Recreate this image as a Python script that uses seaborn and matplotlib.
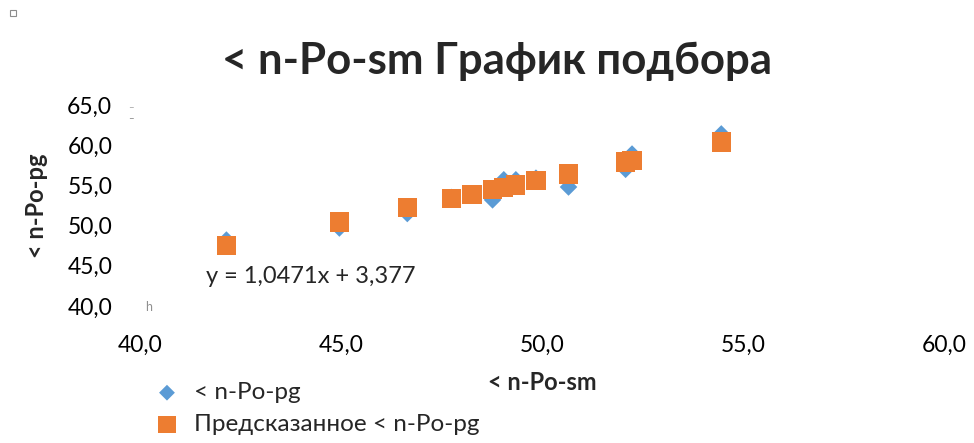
import matplotlib
matplotlib.use("Agg")
import matplotlib.pyplot as plt
from matplotlib.patches import Rectangle
from matplotlib.ticker import FuncFormatter, FixedLocator
import seaborn as sns
import pandas as pd

# Fit plot data: input variable, observed response, predicted response
n_po_sm = [42.15, 44.96, 46.65, 47.75, 48.26, 48.77, 49.05, 49.35, 49.85, 50.66, 52.08, 52.24, 54.46]
n_po_pg = [48.2, 49.7, 51.5, 53.5, 53.8, 53.2, 55.7, 55.7, 55.9, 54.8, 57.0, 58.9, 61.4]
predicted_pg = [47.51, 50.45, 52.22, 53.38, 53.91, 54.45, 54.74, 55.05, 55.58, 56.42, 57.91, 58.08, 60.40]

x_ticks = [40, 45, 50, 55, 60]
y_ticks = [40, 45, 50, 55, 60, 65]

title_text = "< n-Po-sm График подбора"
x_label = "< n-Po-sm"
y_label = "< n-Po-pg"
series_labels = ["< n-Po-pg", "Предсказанное < n-Po-pg"]
equation = "y = 1,0471x + 3,377"

df = pd.DataFrame({"sm": n_po_sm, "pg": n_po_pg, "pred": predicted_pg})

sns.set_style("white")
plt.rcParams["font.family"] = ["Lato", "DejaVu Sans"]

blue = "#5B9BD5"
orange = "#ED7D31"

fig = plt.figure(figsize=(9.74, 4.43), dpi=100)
ax = fig.add_axes([0.1437, 0.3093, 0.8255, 0.4537])

sns.scatterplot(data=df, x="sm", y="pg", ax=ax, marker="D", s=80,
                color=blue, edgecolor="none", label=series_labels[0])
sns.scatterplot(data=df, x="sm", y="pred", ax=ax, marker="s", s=190,
                color=orange, edgecolor="none", label=series_labels[1])

ax.set_xlim(40, 60)
ax.set_ylim(40, 65)
ax.xaxis.set_major_locator(FixedLocator(x_ticks))
ax.yaxis.set_major_locator(FixedLocator(y_ticks))
fmt = FuncFormatter(lambda v, p: f"{v:.1f}".replace(".", ","))
ax.xaxis.set_major_formatter(fmt)
ax.yaxis.set_major_formatter(fmt)
ax.tick_params(axis="both", length=0, labelsize=16.5, colors="#000000")
ax.tick_params(axis="x", pad=21)
ax.tick_params(axis="y", pad=20)
for s in ax.spines.values():
    s.set_visible(False)

ax.set_xlabel(x_label, fontsize=17, fontweight="bold", labelpad=11)
ax.set_ylabel(y_label, fontsize=17, fontweight="bold", labelpad=14)

ax.text(0.082, 0.149, equation, transform=ax.transAxes, fontsize=17,
        ha="left", va="center")

fig.text(0.51, 0.862, title_text, fontsize=31.5, fontweight="bold",
         ha="center", va="center")

# faint axis artefacts near the corner labels
fig.text(131 / 974, 1 - 108 / 443, "–", fontsize=7, color="#a0a0a0",
         ha="center", va="center")
fig.text(131 / 974, 1 - 119 / 443, "–", fontsize=7, color="#808080",
         ha="center", va="center")
fig.text(149 / 974, 1 - 307 / 443, "h", fontsize=9, color="#909090",
         ha="center", va="center")

handles, labels = ax.get_legend_handles_labels()
ax.legend(handles, labels, loc="upper left", bbox_to_anchor=(0.134, 0.165),
          bbox_transform=fig.transFigure, frameon=False, fontsize=17.5,
          handletextpad=0.1, labelspacing=0.45, borderpad=0, markerscale=0.9)

# small selection handle in the corner
fig.patches.append(Rectangle((10 / 974, 1 - 16 / 443), 6 / 974, 6 / 443,
                             transform=fig.transFigure, fill=False,
                             edgecolor="#8c8c8c", linewidth=0.8))

fig.savefig("out.png", dpi=100)
